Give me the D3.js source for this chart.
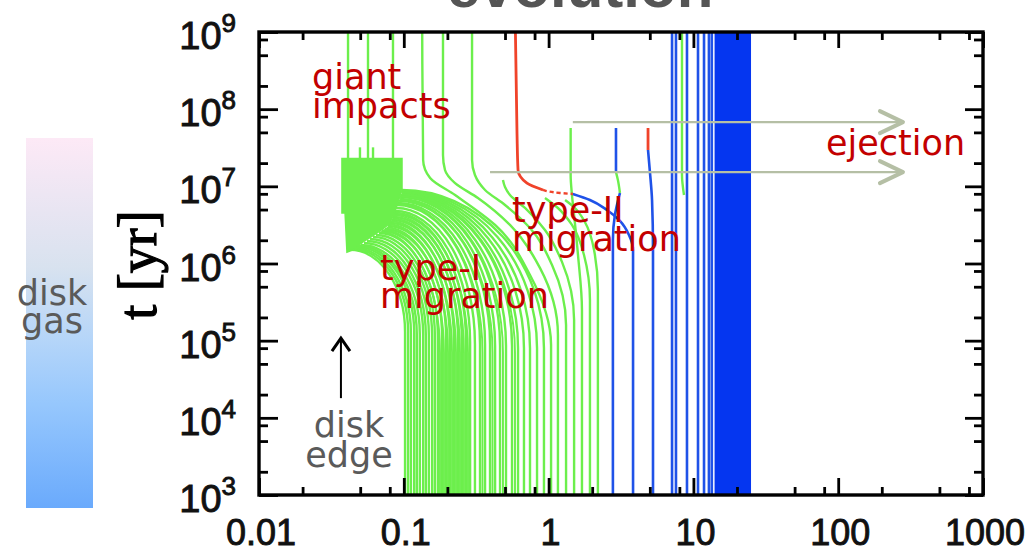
<!DOCTYPE html>
<html><head><meta charset="utf-8">
<script src="https://cdn.jsdelivr.net/npm/d3@7"></script>
<style>body{margin:0;background:#fff;overflow:hidden}</style>
</head><body>
<svg id="c" width="1026" height="549"></svg>
<script>
// ---------------- DATA ----------------
const xTickValues = [0.01, 0.1, 1, 10, 100, 1000];
const xTickLabels = ["0.01", "0.1", "1", "10", "100", "1000"];
const yTickValues = [1e3, 1e4, 1e5, 1e6, 1e7, 1e8, 1e9];
const yTickExponents = ["3", "4", "5", "6", "7", "8", "9"];
const minorMultipliers = [2, 5, 8];
const startT = 1e3;
const endT = 1e9;

// type-I migrating embryos (start a, time migration starts, arrival a, arrival t)
const greenStartA = [0.102,0.107,0.112,0.118,0.123,0.129,0.136,0.142,0.149,0.157,0.164,0.172,0.184,0.196,0.208,0.222,0.237,0.252,0.269,0.287,0.310,0.336,0.364,0.394,0.427,0.462,0.508,0.559,0.615,0.676,0.744,0.832,0.929];
const greenBendT = [1.3e5,1.3e5,1.25e5,1.25e5,1.2e5,1.2e5,1.2e5,1.15e5,1.15e5,1.1e5,1.1e5,1.1e5,1.05e5,1.05e5,1e5,1e5,1e5,9.5e4,9.5e4,9.5e4,9e4,9e4,9e4,9e4,8.5e4,8.5e4,8.5e4,8.5e4,8e4,8e4,8e4,8e4,8e4];
const greenEndA = [0.0425,0.0439,0.0453,0.0468,0.0483,0.0506,0.0531,0.0557,0.0584,0.0613,0.0643,0.0674,0.0707,0.0742,0.0778,0.0803,0.0829,0.0842,0.0856,0.0869,0.0883,0.0897,0.0912,0.0927,0.0942,0.0942,0.0957,0.0957,0.0972,0.0972,0.0972,0.0972,0.0972];
const greenEndT = [1.5e6,1.54e6,1.59e6,1.64e6,1.69e6,1.74e6,1.84e6,1.96e6,2.08e6,2.21e6,2.34e6,2.49e6,2.64e6,2.8e6,3.06e6,3.35e6,3.66e6,4.01e6,4.38e6,4.79e6,5.24e6,5.73e6,6.08e6,6.46e6,6.85e6,7.28e6,7.5e6,7.72e6,7.96e6,8.2e6,8.45e6,8.7e6,8.97e6];
// second set of type-I embryos, lying between the first ones
const green2StartA = [0.1778,0.1895,0.2020,0.2153,0.2294,0.2444,0.2604,0.2776,0.3495,0.4099,0.484,0.586];
const green2BendT = [7e4,7e4,7e4,7e4,7e4,7e4,7e4,7e4,7e4,7e4,7e4,7e4];
const green2EndA = [0.069,0.0724,0.076,0.079,0.0816,0.0835,0.0849,0.0862,0.0904,0.0934,0.095,0.0965];
const green2EndT = [2.56e6,2.72e6,2.93e6,3.2e6,3.5e6,3.83e6,4.2e6,4.58e6,5.9e6,6.65e6,7.4e6,7.85e6];

// giant-impact zone near the disk inner edge [a, t]
const giantImpactZone = [[0.0374,2.3e7],[0.0972,2.3e7],[0.0972,8.97e6],[0.0942,7.5e6],[0.0897,5.7e6],[0.0856,4.4e6],[0.0803,3.35e6],[0.0718,2.8e6],[0.0613,2.3e6],[0.0523,1.9e6],[0.0446,1.5e6],[0.0405,1.4e6],[0.0393,4.5e6],[0.0374,4.5e6]];
const greenSurvivorA = [0.0412, 0.0566, 0.0842];
const greenSurvivorT0 = 2.3e7;
const greenStubA = [0.0498, 0.0613];
const greenStubT1 = 3.2e7;

// individual tracks [a, t]
const greenTrackU1 = [[1.04,1e3],[1.04,8.8e4],[0.744,7.1e5],[0.427,3.16e6],[0.226,7.7e6],[0.152,1.28e7],[0.136,2.2e7],[0.134,1e9]];
const greenTrackU2 = [[1.16,1e3],[1.16,1.19e5],[0.873,8.7e5],[0.541,3.16e6],[0.325,7.06e6],[0.226,1.1e7],[0.1925,1.63e7],[0.1865,2.55e7],[0.1865,1e9]];
const greenTrackU3 = [[1.32,1e3],[1.32,1.6e5],[1.056,9.57e5],[0.744,2.88e6],[0.5,5.73e6],[0.364,8.97e6],[0.31,1.4e7],[0.296,2.19e7],[0.296,1e9]];
const greenTrackU4 = [[1.5,1e3],[1.5,1.85e5],[1.237,1.05e6],[0.944,2.72e6],[0.687,5.24e6],[0.541,7.72e6],[0.5,9.8e6],[0.484,1.21e7]];
const greenTrackU5 = [[1.7,1e3],[1.7,2.5e5],[1.596,1.29e6],[1.5,4.25e6],[1.45,7.72e6],[1.42,1.4e7],[1.42,5.7e7]];
const greenTrackU6 = [[1.93,1e3],[1.93,3.37e5],[1.756,1.29e6],[1.45,3.16e6],[1.16,5.24e6],[0.944,7.06e6]];
const greenTrackU7 = [[2.19,1e3],[2.19,4.54e5],[2.06,1.5e6],[1.78,3.45e6],[1.52,5.24e6],[1.3,6.65e6]];
const greenTrackG8 = [[8.61,7.72e6],[8.34,1.4e7],[8.34,1e9]];
const greenTrackB2mid = [[3.11,8.2e6],[3.01,1.21e7],[2.92,1.53e7]];

const blueTrackTypeII = [[3.83,1e3],[3.83,1.5e6],[3.59,2.34e6],[3.11,3.56e6],[2.53,4.93e6],[1.93,6.65e6],[1.47,7.96e6]];
const blueTrackB2low = [[2.78,1e3],[2.78,2.02e6],[2.87,4.25e6],[3.11,8.2e6]];
const blueTrackB2top = [[2.92,1.53e7],[2.92,5.7e7]];
const blueTrackB3 = [[5.26,1e3],[5.26,1.5e6],[5.18,6.65e6],[5.01,1.53e7],[4.86,2.96e7]];
const blueColumnsA = [7.12, 7.58, 9.03, 10.76, 11.84, 12.8, 13.4];
const blueBandA = [14.0, 25.0];

const redTrackMain = [[0.915,8.97e6],[0.709,1.1e7],[0.615,1.63e7],[0.605,4.9e7],[0.59,1e9]];
const redTrackDashed = [[1.47,7.96e6],[1.2,8.2e6],[0.915,8.97e6]];
const redTrackB3top = [[4.86,2.96e7],[4.86,5.7e7]];

// ejection arrows
const ejectionStartA = [1.47, 0.394];
const ejectionT = [6.8e7, 1.53e7];
const ejectionEndA = 280;

// disk edge arrow
const diskEdgeA = 0.0368;
const diskEdgeArrowT = [1.8e4, 1.08e5];

// ---------------- DRAW ----------------
const svg = d3.select("#c");
const L = 259, R = 983, T = 32, B = 495;
const x = d3.scaleLog().domain([0.01, 1000]).range([L, R]);
const y = d3.scaleLog().domain([startT, endT]).range([B, T]);

const GREEN = "#6cef4c", BLUE = "#1f52e8", BAND = "#0536f0", RED = "#f0432a";
const LBL = "#c30000";
const GW = 2.4;

// disk gas gradient bar
const defs = svg.append("defs");
const grad = defs.append("linearGradient").attr("id","gas").attr("x1",0).attr("y1",0).attr("x2",0).attr("y2",1);
[["0%","#fde9f6"],["35%","#d8e2ef"],["55%","#b4d5f9"],["72%","#96c7fd"],["100%","#6aaafc"]]
  .forEach(s=>grad.append("stop").attr("offset",s[0]).attr("stop-color",s[1]));
svg.append("rect").attr("x",26).attr("y",138).attr("width",67).attr("height",370).attr("fill","url(#gas)");
svg.append("text").attr("x",52).attr("y",305).attr("text-anchor","middle")
  .attr("font-family","DejaVu Sans").attr("font-size",35).attr("fill","#5a5a5a").text("disk");
svg.append("text").attr("x",52).attr("y",333).attr("text-anchor","middle")
  .attr("font-family","DejaVu Sans").attr("font-size",35).attr("fill","#5a5a5a").text("gas");

// title (cut at top)
svg.append("text").attr("x",580).attr("y",7).attr("text-anchor","middle")
  .attr("font-family","Liberation Sans").attr("font-weight","bold").attr("font-size",60)
  .attr("fill","#555").text("evolution");

defs.append("clipPath").attr("id","plot").append("rect").attr("x",L).attr("y",T).attr("width",R-L).attr("height",B-T);
const g = svg.append("g").attr("clip-path","url(#plot)");

const lineMY = d3.line().x(d=>x(d[0])).y(d=>y(d[1])).curve(d3.curveMonotoneY);
const drawTrack = (pts, color, w, dash) => {
  const sorted = pts.slice().sort((p,q)=>q[1]-p[1]);
  const p = g.append("path").attr("d", lineMY(sorted)).attr("fill","none")
    .attr("stroke",color).attr("stroke-width",w||GW);
  if (dash) p.attr("stroke-dasharray",dash);
};
const drawMigrators = (sA,bT,eA,eT,w) => sA.forEach((a0,i)=>{
  const x0=x(a0), yb=y(bT[i]), xe=x(eA[i]), ye=y(eT[i]);
  g.append("path")
    .attr("d",`M${x0},${y(startT)}L${x0},${yb}A${x0-xe},${yb-ye} 0 0 0 ${xe},${ye}`)
    .attr("fill","none").attr("stroke",GREEN).attr("stroke-width",w);
});

// type-I tracks
drawMigrators(greenStartA, greenBendT, greenEndA, greenEndT, GW);
drawMigrators(green2StartA, green2BendT, green2EndA, green2EndT, 1.9);

// giant impact zone
g.append("path").attr("d", d3.line().x(d=>x(d[0])).y(d=>y(d[1]))(giantImpactZone)+"Z")
  .attr("fill",GREEN).attr("stroke",GREEN).attr("stroke-width",1.5);
greenSurvivorA.forEach(a=>g.append("line").attr("x1",x(a)).attr("x2",x(a))
  .attr("y1",y(greenSurvivorT0)).attr("y2",y(endT)).attr("stroke",GREEN).attr("stroke-width",GW));
greenStubA.forEach(a=>g.append("line").attr("x1",x(a)).attr("x2",x(a))
  .attr("y1",y(greenSurvivorT0)).attr("y2",y(greenStubT1)).attr("stroke",GREEN).attr("stroke-width",GW));

[greenTrackU1,greenTrackU2,greenTrackU3,greenTrackU4,greenTrackU5,greenTrackU6,greenTrackU7,greenTrackG8,greenTrackB2mid]
  .forEach(t=>drawTrack(t,GREEN));

// blue
g.append("rect").attr("x",x(blueBandA[0])).attr("width",x(blueBandA[1])-x(blueBandA[0]))
  .attr("y",T).attr("height",B-T).attr("fill",BAND);
blueColumnsA.forEach(a=>g.append("line").attr("x1",x(a)).attr("x2",x(a))
  .attr("y1",y(startT)).attr("y2",y(endT)).attr("stroke",BLUE).attr("stroke-width",2.6));
[blueTrackTypeII,blueTrackB2low,blueTrackB2top,blueTrackB3].forEach(t=>drawTrack(t,BLUE,2.6));

// red
drawTrack(redTrackMain, RED, 2.8);
drawTrack(redTrackDashed, RED, 2.4, "4,3");
drawTrack(redTrackB3top, RED, 2.8);

// ejection arrows
const ARW = "#b5bfa5";
ejectionStartA.forEach((a,i)=>{
  const yy=y(ejectionT[i]), xe=x(ejectionEndA);
  svg.append("line").attr("x1",x(a)).attr("x2",xe).attr("y1",yy).attr("y2",yy)
    .attr("stroke",ARW).attr("stroke-width",2.2);
  svg.append("path").attr("d",`M${xe-23},${yy-11}L${xe},${yy}L${xe-23},${yy+11}`)
    .attr("fill","none").attr("stroke",ARW).attr("stroke-width",4).attr("stroke-linecap","round").attr("stroke-linejoin","round");
});

// disk edge arrow
{
  const xa=x(diskEdgeA), y0=y(diskEdgeArrowT[0]), y1=y(diskEdgeArrowT[1]);
  svg.append("line").attr("x1",xa).attr("x2",xa).attr("y1",y0).attr("y2",y1+1).attr("stroke","#000").attr("stroke-width",2);
  svg.append("path").attr("d",`M${xa-9},${y1+13}L${xa},${y1}L${xa+9},${y1+13}`)
    .attr("fill","none").attr("stroke","#000").attr("stroke-width",3);
}

// axes ticks (inward on all sides)
const minorX = [], minorY = [];
xTickValues.slice(0,-1).forEach(v=>minorMultipliers.forEach(m=>minorX.push(v*m)));
yTickValues.slice(0,-1).forEach(v=>minorMultipliers.forEach(m=>minorY.push(v*m)));
const styleAxis = sel => { sel.select(".domain").remove(); sel.selectAll("line").attr("stroke","#000").attr("stroke-width",2.8); sel.selectAll("text").remove(); };
svg.append("g").attr("transform",`translate(0,${B})`).call(d3.axisBottom(x).tickValues(xTickValues).tickSize(-17)).call(styleAxis);
svg.append("g").attr("transform",`translate(0,${B})`).call(d3.axisBottom(x).tickValues(minorX).tickSize(-8)).call(styleAxis);
svg.append("g").attr("transform",`translate(0,${T})`).call(d3.axisTop(x).tickValues(xTickValues).tickSize(-16)).call(styleAxis);
svg.append("g").attr("transform",`translate(0,${T})`).call(d3.axisTop(x).tickValues(minorX).tickSize(-8)).call(styleAxis);
svg.append("g").attr("transform",`translate(${L},0)`).call(d3.axisLeft(y).tickValues(yTickValues).tickSize(-19)).call(styleAxis);
svg.append("g").attr("transform",`translate(${L},0)`).call(d3.axisLeft(y).tickValues(minorY).tickSize(-9)).call(styleAxis);
svg.append("g").attr("transform",`translate(${R},0)`).call(d3.axisRight(y).tickValues(yTickValues).tickSize(-18)).call(styleAxis);
svg.append("g").attr("transform",`translate(${R},0)`).call(d3.axisRight(y).tickValues(minorY).tickSize(-9)).call(styleAxis);
svg.append("rect").attr("x",L).attr("y",T).attr("width",R-L).attr("height",B-T)
  .attr("fill","none").attr("stroke","#000").attr("stroke-width",3.4);

// tick labels
xTickValues.forEach((v,i)=>svg.append("text").attr("x",x(v)+2).attr("y",545).attr("text-anchor","middle")
  .attr("font-family","Liberation Sans").attr("font-size",36).attr("fill","#111")
  .attr("stroke","#111").attr("stroke-width",0.9).text(xTickLabels[i]));
yTickValues.forEach((v,i)=>{
  const t=svg.append("text").attr("x",236).attr("y",y(v)+17).attr("text-anchor","end")
    .attr("font-family","Liberation Sans").attr("fill","#111").attr("stroke","#111").attr("stroke-width",0.9);
  t.append("tspan").attr("font-size",38).text("10");
  t.append("tspan").attr("font-size",26).attr("dy",-17).text(yTickExponents[i]);
});

// y axis title
svg.append("text").attr("transform","translate(156,265) rotate(-90)").attr("text-anchor","middle")
  .attr("font-family","Liberation Serif").attr("font-size",54).attr("fill","#000")
  .attr("stroke","#000").attr("stroke-width",1.2).text("t [yr]");

// annotations
const ann = (txt,xx,yy,col)=>svg.append("text").attr("x",xx).attr("y",yy)
  .attr("font-family","DejaVu Sans").attr("font-size",35).attr("fill",col).text(txt);
ann("giant",312,89,LBL); ann("impacts",312,118,LBL);
ann("type-I",380,280,LBL); ann("migration",380,308,LBL);
ann("type-II",512,222,LBL); ann("migration",512,251,LBL);
ann("ejection",826,155,LBL);
svg.append("text").attr("x",349).attr("y",437).attr("text-anchor","middle").attr("font-family","DejaVu Sans").attr("font-size",35).attr("fill","#5a5a5a").text("disk");
svg.append("text").attr("x",349).attr("y",467).attr("text-anchor","middle").attr("font-family","DejaVu Sans").attr("font-size",35).attr("fill","#5a5a5a").text("edge");
</script>
</body></html>
